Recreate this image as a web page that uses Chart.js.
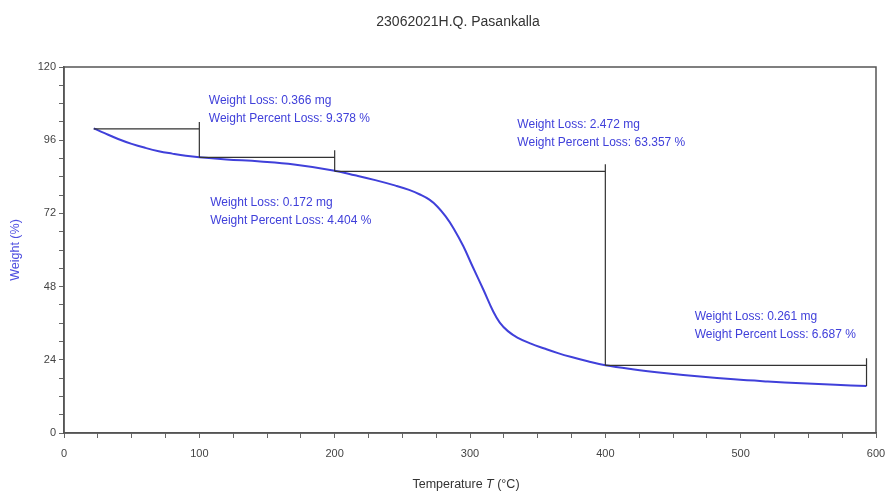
<!DOCTYPE html>
<html>
<head>
   <title>TGA 23062021H.Q. Pasankalla</title>
   <script src="https://cdn.jsdelivr.net/npm/chart.js"></script>
   <style>
       body { margin: 0; background: #fff; }
   </style>
</head>
<body>
   <canvas id="tgaChart" width="888" height="494"></canvas>

   <script>
       // TGA curve
       const temps = [22, 30, 40, 50, 60, 70, 80, 90, 100, 120, 145, 170, 200, 215, 230, 245, 255, 263, 270, 276, 282, 288, 295, 302, 310, 317, 322, 328, 335, 345, 355, 365, 375, 387, 400, 420, 445, 470, 495, 520, 545, 570, 593];
       const weights = [99.9, 98.3, 96.4, 94.8, 93.5, 92.4, 91.6, 90.9, 90.4, 89.7, 89.0, 88.0, 86.0, 84.5, 82.9, 81.1, 79.7, 78.2, 76.5, 74.2, 71.0, 67.0, 61.3, 54.5, 46.9, 40.0, 36.2, 33.4, 31.3, 29.3, 27.7, 26.2, 24.9, 23.5, 22.2, 20.9, 19.6, 18.5, 17.6, 16.9, 16.3, 15.8, 15.4];

       // step analysis brackets
       const stepTemps = [22, 100, 200, 400, 593];
       const stepWeights = [99.7, 90.4, 85.8, 22.2, 15.4];
       const lossMg = ["0.366", "0.172", "2.472", "0.261"];
       const lossPct = ["9.378", "4.404", "63.357", "6.687"];
       // where each loss label sits (data units)
       const labelTemps = [107, 108, 335, 466];
       const labelWeights = [109, 75.4, 101, 38];

       const blue = "#4040da";
       const font = "'Liberation Sans', Arial, sans-serif";

       const tgaPlugin = {
           id: "tga",
           afterDraw(chart) {
               const c = chart.ctx;
               const xs = chart.scales.x, ys = chart.scales.y;
               const a = chart.chartArea;
               c.save();
               // frame
               c.strokeStyle = "#555";
               c.lineWidth = 1.5;
               c.strokeRect(a.left, a.top, a.right - a.left, a.bottom - a.top);

               // brackets
               c.strokeStyle = "#333";
               c.lineWidth = 1.2;
               for (let i = 0; i < stepTemps.length - 1; i++) {
                   const x0 = xs.getPixelForValue(stepTemps[i]);
                   const x1 = xs.getPixelForValue(stepTemps[i + 1]);
                   const y0 = ys.getPixelForValue(stepWeights[i]);
                   const y1 = ys.getPixelForValue(stepWeights[i + 1]);
                   c.beginPath();
                   c.moveTo(x0, y0);
                   c.lineTo(x1, y0);
                   c.moveTo(x1, y0 - 7);
                   c.lineTo(x1, y1);
                   c.stroke();
               }

               // labels
               c.fillStyle = blue;
               c.font = "12px " + font;
               c.textAlign = "left";
               c.textBaseline = "middle";
               for (let i = 0; i < lossMg.length; i++) {
                   const x = xs.getPixelForValue(labelTemps[i]);
                   const y = ys.getPixelForValue(labelWeights[i]);
                   c.fillText("Weight Loss: " + lossMg[i] + " mg", x, y);
                   c.fillText("Weight Percent Loss: " + lossPct[i] + " %", x, y + 18);
               }

               // title
               c.fillStyle = "#333";
               c.font = "14px " + font;
               c.textAlign = "center";
               c.fillText("23062021H.Q. Pasankalla", 458, 22);

               // x axis title with italic T
               c.textAlign = "left";
               const p1 = "Temperature ", p3 = " (°C)";
               c.font = "italic 12.5px " + font;
               const wT = c.measureText("T").width;
               c.font = "12.5px " + font;
               const w1 = c.measureText(p1).width, w3 = c.measureText(p3).width;
               let tx = 466 - (w1 + wT + w3) / 2;
               c.fillText(p1, tx, 485);
               c.font = "italic 12.5px " + font;
               c.fillText("T", tx + w1, 485);
               c.font = "12.5px " + font;
               c.fillText(p3, tx + w1 + wT, 485);
               c.restore();
           }
       };

       const ctx = document.getElementById("tgaChart").getContext("2d");
       const chart = new Chart(ctx, {
           type: "line",
           data: {
               datasets: [{
                   label: "Weight",
                   data: temps.map((t, i) => ({ x: t, y: weights[i] })),
                   borderColor: blue,
                   borderWidth: 2,
                   pointRadius: 0,
                   tension: 0.4,
                   fill: false
               }]
           },
           options: {
               responsive: false,
               animation: false,
               layout: { padding: { top: 67, right: 12, left: 0, bottom: 0 } },
               plugins: {
                   legend: { display: false },
                   tooltip: { enabled: false }
               },
               scales: {
                   x: {
                       type: "linear",
                       min: 0,
                       max: 600,
                       border: { color: "#555", width: 1.5 },
                       grid: { drawOnChartArea: false, tickLength: 5, color: "#666" },
                       ticks: {
                           stepSize: 25,
                           autoSkip: false,
                           maxRotation: 0,
                           padding: 9,
                           color: "#444",
                           font: { family: font, size: 11 },
                           callback: v => (v % 100 === 0 ? v : "")
                       },
                       afterFit(s) {
                           s.height = 61;
                           s.paddingLeft = 0;
                           s.paddingRight = 0;
                       }
                   },
                   y: {
                       min: 0,
                       max: 120,
                       border: { color: "#555", width: 1.5 },
                       grid: { drawOnChartArea: false, tickLength: 5, color: "#666" },
                       ticks: {
                           stepSize: 6,
                           autoSkip: false,
                           color: "#444",
                           font: { family: font, size: 11 },
                           callback: v => (v % 24 === 0 ? v : "")
                       },
                       title: {
                           display: true,
                           text: "Weight (%)",
                           color: "#5050e0",
                           padding: { top: 8, bottom: 0 },
                           font: { family: font, size: 12.5 }
                       },
                       afterFit(s) { s.width = 64; }
                   }
               }
           },
           plugins: [tgaPlugin]
       });
   </script>
</body>
</html>
